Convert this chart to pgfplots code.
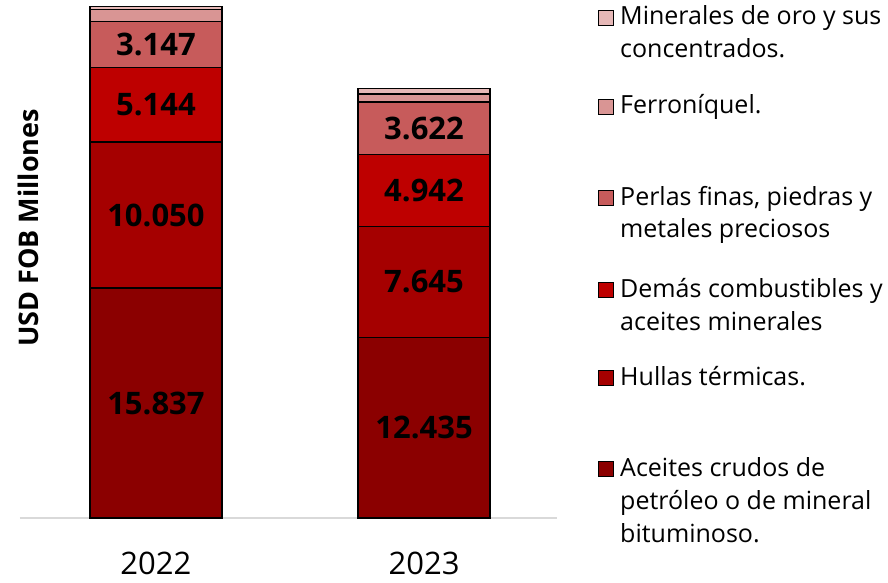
\documentclass[border=0pt]{standalone}
\usepackage{pgfplots}
\pgfplotsset{compat=1.18}
\usepackage{fontspec}
\setmainfont{Open Sans}
\definecolor{crudo}{HTML}{8B0000}
\definecolor{hullas}{HTML}{A50000}
\definecolor{demas}{HTML}{BE0000}
\definecolor{perlas}{HTML}{C75B5B}
\definecolor{ferro}{HTML}{D99594}
\definecolor{oro}{HTML}{E6B8B7}
\definecolor{baseline}{HTML}{D9D9D9}

\begin{document}
\begin{tikzpicture}
\useasboundingbox (0,0) rectangle (888pt,582pt);
\begin{axis}[
  at={(20pt,64pt)}, anchor=south west,
  scale only axis, width=537pt, height=518pt,
  xmin=-0.507, xmax=1.496, ymin=0, ymax=35.67,
  ybar stacked, bar width=132pt,
  axis lines*=left,
  y axis line style={draw=none},
  x axis line style={draw=baseline, line width=1.5pt, -},
  ytick=\empty, xtick={0,1}, xticklabels={2022,2023},
  major tick length=0pt,
  xticklabel style={anchor=center, yshift=-45pt, font=\fontsize{31}{36}\selectfont},
  every axis plot/.append style={draw=black, line width=1.2pt},
  point meta=explicit symbolic,
  % with anchor=center the stacked labels already sit mid-segment
  seglabel/.style={nodes near coords,
    every node near coord/.append style={font=\fontsize{31}{36}\bfseries, black, anchor=center}},
  clip=false,
]
  \addplot[fill=crudo, seglabel] table[x=x, y=v, meta=lab] {
    x v lab
    0 15.837 15.837
    1 12.435 12.435
  };
  \addplot[fill=hullas, seglabel] table[x=x, y=v, meta=lab] {
    x v lab
    0 10.050 10.050
    1 7.645 7.645
  };
  \addplot[fill=demas, seglabel] table[x=x, y=v, meta=lab] {
    x v lab
    0 5.144 5.144
    1 4.942 4.942
  };
  \addplot[fill=perlas, seglabel] table[x=x, y=v, meta=lab] {
    x v lab
    0 3.147 3.147
    1 3.622 3.622
  };
  \addplot[fill=ferro] table[x=x, y=v, meta=lab] {
    x v lab
    0 0.83 {}
    1 0.55 {}
  };
  \addplot[fill=oro] table[x=x, y=v, meta=lab] {
    x v lab
    0 0.20 {}
    1 0.40 {}
  };
\end{axis}

% y axis title
\node[rotate=90, font=\fontsize{27}{30}\bfseries, anchor=center] at (28pt,354pt) {USD FOB Millones};

% legend
\tikzset{legsq/.style={draw=black, line width=1pt}, legtx/.style={anchor=base west, inner sep=0pt, font=\fontsize{25}{33}\selectfont}}
\draw[legsq, fill=oro]    (598pt,556.5pt) rectangle +(15pt,15pt);
\node[legtx] at (620pt,557pt) {\begin{tabular}[t]{@{}l@{}}Minerales de oro y sus\\concentrados.\end{tabular}};
\draw[legsq, fill=ferro]  (598pt,467.5pt) rectangle +(15pt,15pt);
\node[legtx] at (620pt,468pt) {\begin{tabular}[t]{@{}l@{}}Ferroníquel.\end{tabular}};
\draw[legsq, fill=perlas] (598pt,376.5pt) rectangle +(15pt,15pt);
\node[legtx] at (620pt,377pt) {\begin{tabular}[t]{@{}l@{}}Perlas finas, piedras y\\metales preciosos\end{tabular}};
\draw[legsq, fill=demas]  (598pt,284.5pt) rectangle +(15pt,15pt);
\node[legtx] at (620pt,285pt) {\begin{tabular}[t]{@{}l@{}}Demás combustibles y\\aceites minerales\end{tabular}};
\draw[legsq, fill=hullas] (598pt,196.5pt) rectangle +(15pt,15pt);
\node[legtx] at (620pt,197pt) {\begin{tabular}[t]{@{}l@{}}Hullas térmicas.\end{tabular}};
\draw[legsq, fill=crudo]  (598pt,105.5pt) rectangle +(15pt,15pt);
\node[legtx] at (620pt,106pt) {\begin{tabular}[t]{@{}l@{}}Aceites crudos de\\petróleo o de mineral\\bituminoso.\end{tabular}};
\end{tikzpicture}
\end{document}
